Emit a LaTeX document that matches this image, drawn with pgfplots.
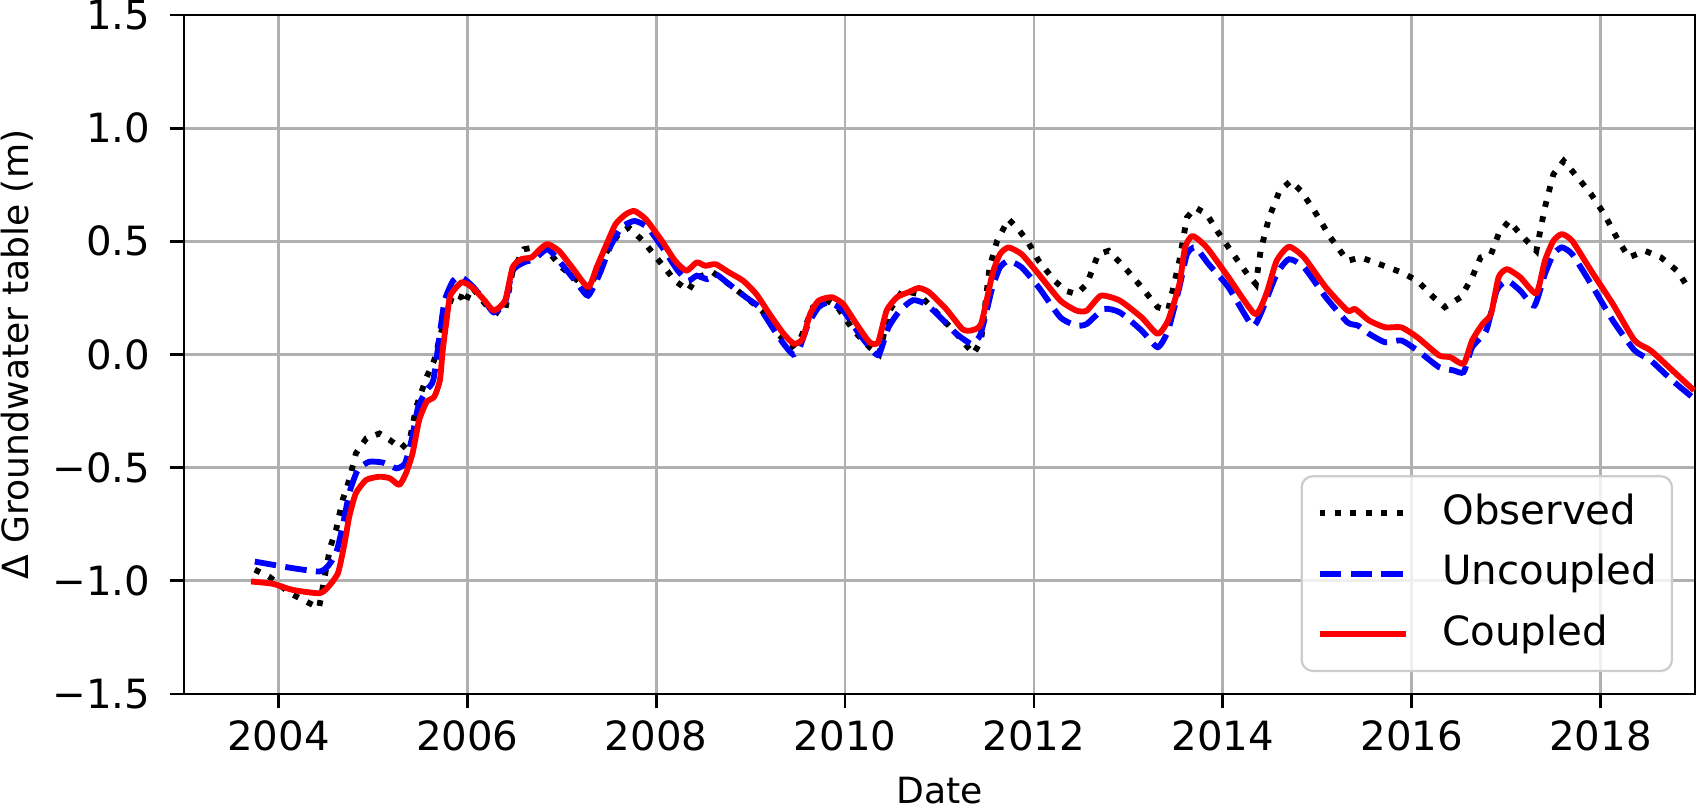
\documentclass[border=0pt]{standalone}
\usepackage{fontspec}
\setmainfont{DejaVu Sans}
\usepackage{pgfplots}
\usepackage{pgfplotstable}
\pgfplotsset{compat=1.18}
\definecolor{gridgray}{HTML}{B0B0B0}
\definecolor{leggray}{HTML}{CCCCCC}

\pgfplotstableread{
x y
2003.75 -0.951
2003.90 -0.981
2004.12 -1.054
2004.29 -1.091
2004.43 -1.12
2004.49 -0.981
2004.55 -0.849
2004.61 -0.775
2004.68 -0.643
2004.75 -0.554
2004.82 -0.437
2004.93 -0.371
2005.07 -0.349
2005.18 -0.378
2005.30 -0.415
2005.39 -0.378
2005.46 -0.231
2005.57 -0.099
2005.65 -0.025
2005.72 0.093
2005.80 0.21
2005.85 0.267
2005.94 0.253
2005.97 0.223
2006.05 0.297
2006.19 0.223
2006.34 0.179
2006.40 0.194
2006.48 0.37
2006.60 0.465
2006.71 0.473
2006.85 0.458
2007.00 0.385
2007.17 0.326
2007.28 0.282
2007.46 0.443
2007.60 0.532
2007.71 0.561
2007.86 0.502
2008.03 0.414
2008.20 0.326
2008.34 0.282
2008.43 0.341
2008.60 0.363
2008.77 0.311
2008.95 0.253
2009.12 0.194
2009.29 0.091
2009.43 0.032
2009.52 0.062
2009.66 0.209
2009.81 0.238
2009.92 0.209
2010.09 0.106
2010.26 0.032
2010.36 0.0
2010.47 0.194
2010.61 0.282
2010.78 0.267
2010.95 0.194
2011.18 0.091
2011.36 0.003
2011.44 0.06
2011.53 0.385
2011.61 0.502
2011.73 0.598
2011.82 0.561
2011.93 0.502
2012.05 0.414
2012.22 0.326
2012.33 0.282
2012.45 0.267
2012.56 0.311
2012.68 0.443
2012.79 0.458
2012.96 0.385
2013.14 0.297
2013.31 0.209
2013.42 0.194
2013.54 0.414
2013.62 0.605
2013.71 0.649
2013.83 0.620
2013.94 0.546
2014.11 0.443
2014.26 0.355
2014.35 0.311
2014.40 0.458
2014.49 0.605
2014.60 0.722
2014.72 0.767
2014.83 0.722
2014.97 0.634
2015.14 0.517
2015.32 0.414
2015.46 0.429
2015.66 0.399
2015.89 0.363
2016.06 0.326
2016.23 0.253
2016.35 0.209
2016.52 0.253
2016.64 0.341
2016.73 0.429
2016.84 0.443
2016.92 0.532
2017.03 0.590
2017.15 0.532
2017.32 0.458
2017.41 0.649
2017.50 0.796
2017.61 0.855
2017.76 0.781
2017.90 0.708
2018.04 0.620
2018.19 0.502
2018.30 0.429
2018.47 0.458
2018.64 0.429
2018.81 0.370
2018.95 0.282
}\observed

\pgfplotstableread{
x y
2003.75 -0.915
2003.94 -0.929
2004.15 -0.944
2004.43 -0.959
2004.52 -0.937
2004.61 -0.878
2004.68 -0.76
2004.75 -0.613
2004.84 -0.51
2004.96 -0.474
2005.11 -0.478
2005.25 -0.503
2005.34 -0.481
2005.41 -0.378
2005.48 -0.231
2005.57 -0.157
2005.64 -0.113
2005.71 0.093
2005.76 0.238
2005.85 0.326
2005.94 0.341
2006.05 0.304
2006.17 0.245
2006.28 0.186
2006.40 0.23
2006.48 0.37
2006.60 0.407
2006.71 0.421
2006.85 0.465
2007.00 0.399
2007.17 0.311
2007.28 0.26
2007.40 0.355
2007.51 0.473
2007.63 0.561
2007.77 0.59
2007.91 0.561
2008.09 0.458
2008.23 0.370
2008.34 0.326
2008.43 0.348
2008.54 0.333
2008.63 0.355
2008.77 0.311
2008.95 0.253
2009.09 0.209
2009.23 0.12
2009.35 0.047
2009.45 0.0
2009.52 0.032
2009.61 0.135
2009.72 0.209
2009.83 0.23
2009.98 0.194
2010.15 0.091
2010.29 0.018
2010.36 0.0
2010.46 0.12
2010.58 0.194
2010.72 0.240
2010.86 0.222
2011.01 0.164
2011.18 0.091
2011.34 0.047
2011.43 0.085
2011.50 0.194
2011.56 0.297
2011.64 0.385
2011.73 0.414
2011.87 0.385
2012.05 0.297
2012.28 0.164
2012.45 0.128
2012.56 0.135
2012.74 0.201
2012.91 0.186
2013.14 0.106
2013.31 0.032
2013.42 0.106
2013.54 0.297
2013.62 0.443
2013.71 0.473
2013.85 0.399
2014.06 0.297
2014.31 0.128
2014.40 0.179
2014.57 0.355
2014.70 0.421
2014.86 0.385
2015.09 0.253
2015.32 0.142
2015.43 0.128
2015.55 0.091
2015.72 0.054
2015.89 0.062
2016.06 0.018
2016.29 -0.056
2016.44 -0.07
2016.55 -0.078
2016.64 0.032
2016.79 0.106
2016.90 0.282
2017.01 0.326
2017.15 0.282
2017.30 0.216
2017.41 0.355
2017.50 0.443
2017.59 0.473
2017.70 0.443
2017.90 0.311
2018.13 0.150
2018.36 0.018
2018.53 -0.026
2018.76 -0.115
2018.99 -0.195
}\uncoupled

\pgfplotstableread{
x y
2003.71 -1.003
2003.94 -1.013
2004.15 -1.04
2004.43 -1.055
2004.52 -1.03
2004.63 -0.966
2004.70 -0.834
2004.75 -0.716
2004.82 -0.613
2004.93 -0.554
2005.07 -0.54
2005.18 -0.547
2005.28 -0.576
2005.35 -0.525
2005.42 -0.437
2005.49 -0.29
2005.57 -0.209
2005.65 -0.187
2005.71 -0.113
2005.74 0.02
2005.78 0.15
2005.82 0.26
2005.94 0.319
2006.05 0.297
2006.17 0.245
2006.28 0.194
2006.40 0.238
2006.48 0.385
2006.57 0.421
2006.68 0.429
2006.77 0.465
2006.85 0.488
2006.97 0.458
2007.11 0.385
2007.28 0.297
2007.37 0.385
2007.46 0.473
2007.57 0.576
2007.68 0.620
2007.77 0.634
2007.89 0.598
2008.06 0.502
2008.20 0.414
2008.32 0.370
2008.43 0.407
2008.52 0.392
2008.63 0.399
2008.77 0.363
2008.92 0.326
2009.06 0.267
2009.20 0.179
2009.35 0.091
2009.46 0.047
2009.55 0.069
2009.63 0.179
2009.72 0.238
2009.86 0.253
2009.98 0.223
2010.12 0.135
2010.26 0.054
2010.35 0.054
2010.44 0.194
2010.55 0.253
2010.67 0.275
2010.78 0.294
2010.89 0.275
2011.07 0.201
2011.24 0.113
2011.33 0.106
2011.44 0.135
2011.56 0.355
2011.64 0.443
2011.73 0.473
2011.87 0.443
2012.05 0.355
2012.28 0.238
2012.45 0.194
2012.56 0.194
2012.71 0.26
2012.91 0.238
2013.14 0.164
2013.31 0.091
2013.42 0.150
2013.54 0.311
2013.60 0.473
2013.68 0.524
2013.83 0.473
2014.06 0.341
2014.34 0.179
2014.46 0.267
2014.57 0.414
2014.70 0.476
2014.86 0.429
2015.09 0.297
2015.32 0.194
2015.40 0.201
2015.55 0.15
2015.72 0.12
2015.89 0.12
2016.06 0.076
2016.29 -0.004
2016.41 -0.012
2016.55 -0.041
2016.64 0.062
2016.75 0.135
2016.84 0.179
2016.92 0.341
2017.01 0.377
2017.15 0.341
2017.32 0.27
2017.41 0.414
2017.50 0.502
2017.59 0.532
2017.70 0.502
2017.90 0.370
2018.13 0.223
2018.36 0.062
2018.53 0.018
2018.76 -0.07
2018.99 -0.159
}\coupled

\begin{document}
\begin{tikzpicture}
\begin{axis}[
  scale only axis,
  width=543.96pt, height=244.44pt,
  xmin=2003, xmax=2019,
  ymin=-1.5, ymax=1.5,
  xtick={2004,2006,2008,2010,2012,2014,2016,2018},
  xticklabels={2004,2006,2008,2010,2012,2014,2016,2018},
  ytick={-1.5,-1,-0.5,0,0.5,1,1.5},
  yticklabels={−1.5,−1.0,−0.5,0.0,0.5,1.0,1.5},
  tick align=outside,
  major tick length=5.2pt,
  tick style={black, line width=1pt},
  xtick pos=bottom, ytick pos=left,
  axis line style={black, line width=1pt},
  grid=major,
  major grid style={gridgray, line width=1pt},
  ticklabel style={font=\fontsize{14.5}{17}\selectfont},
  xticklabel style={anchor=north, inner sep=0pt, yshift=-4pt},
  yticklabel style={anchor=east, inner sep=0pt, xshift=-6.8pt},
  xlabel={Date},
  ylabel={Δ Groundwater table (m)},
  xlabel style={font=\fontsize{13}{15}\selectfont, at={(axis description cs:0.5,-0.1612)}, anchor=base, inner sep=0pt},
  ylabel style={font=\fontsize{13}{15}\selectfont, at={(axis description cs:-0.1026,0.5)}, anchor=base, rotate=0, inner sep=0pt},
  legend cell align=left,
  legend image code/.code={\draw[#1] (0pt,0pt) -- (31pt,0pt);},
  legend style={
    at={(axis description cs:0.98548,0.0323)}, anchor=south east,
    draw=leggray, line width=0.8pt, rounded corners=4pt,
    fill=white, fill opacity=0.8, text opacity=1,
    font=\fontsize{14.5}{17}\selectfont,
    inner xsep=5.4pt, inner ysep=6.3pt,
    row sep=7.9pt, column sep=12.2pt,
    nodes={inner sep=0pt, text height=10.9pt, text depth=3pt},
  },
]
\addplot[black, line width=2.1pt, dash pattern=on 2.1pt off 3.46pt] table[x=x,y=y] {\observed};
\addlegendentry{Observed}
\addplot[blue, line width=2.1pt, dash pattern=on 7.77pt off 3.36pt, smooth, tension=0.35] table[x=x,y=y] {\uncoupled};
\addlegendentry{Uncoupled}
\addplot[red, line width=2.1pt, line join=round, smooth, tension=0.35] table[x=x,y=y] {\coupled};
\addlegendentry{Coupled}
\coordinate (SW) at (rel axis cs:0,0);
\coordinate (NE) at (rel axis cs:1,1);
\end{axis}
\pgfresetboundingbox
\path ([shift={(-66.24pt,-41.76pt)}]SW) rectangle ([shift={(1.08pt,5.4pt)}]NE);
\end{tikzpicture}
\end{document}
